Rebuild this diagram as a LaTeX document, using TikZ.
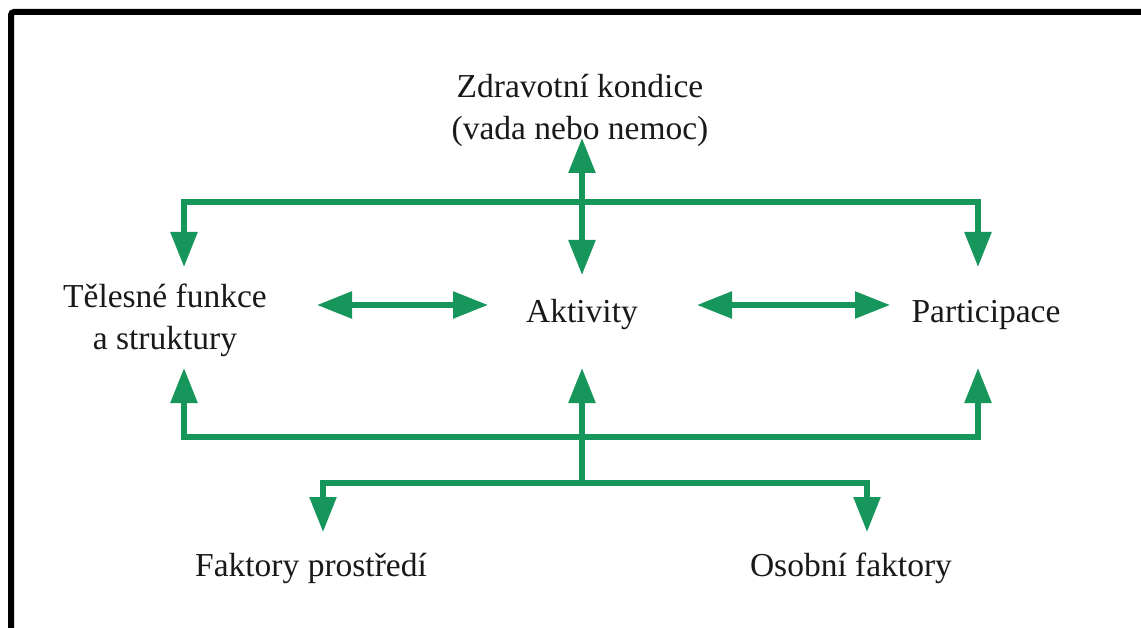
\documentclass[tikz,border=0pt]{standalone}
\usepackage{fontspec}
\setmainfont{Liberation Serif}
\usetikzlibrary{arrows.meta}
\definecolor{icfgreen}{RGB}{22,150,90}
\tikzset{
  lbl/.style={font=\fontsize{33.5}{42}\selectfont, text=black!90, inner sep=0pt, anchor=base, align=center},
  conn/.style={draw=icfgreen, line width=5.5pt},
  arr/.style={conn, -{Triangle[length=35pt,width=26pt]}},
  darr/.style={conn, {Triangle[length=35pt,width=26pt]}-{Triangle[length=35pt,width=26pt]}},
}
\begin{document}
\begin{tikzpicture}[x=1pt,y=-1pt]
\useasboundingbox (0,0) rectangle (1141,628);
\fill[white] (0,0) rectangle (1141,628);
% frame
\draw[line width=6pt, rounded corners=3pt] (11,640) -- (11,12) -- (1150,12);

% labels (base = baseline of last line)
\node[lbl] (zk) at (580,140) {Zdravotní kondice\\(vada nebo nemoc)};
\node[lbl] (tf) at (165,349) {Tělesné funkce\\a struktury};
\node[lbl] (ak) at (582,323) {Aktivity};
\node[lbl] (pa) at (986,323) {Participace};
\node[lbl] (fp) at (311,576) {Faktory prostředí};
\node[lbl] (of) at (851,576) {Osobní faktory};

% tip coordinates
\coordinate (zkT) at (582,138);
\coordinate (akT) at (582,275);
\coordinate (akB) at (582,368);
\coordinate (tfT) at (184,267);
\coordinate (tfB) at (184,368);
\coordinate (paT) at (978,267);
\coordinate (paB) at (978,368);
\coordinate (tfR) at (317,305);
\coordinate (akL) at (488,305);
\coordinate (akR) at (697,305);
\coordinate (paL) at (890,305);
\coordinate (fpT) at (323,532);
\coordinate (ofT) at (867,532);
% junctions
\coordinate (topJ) at (582,202);
\coordinate (botJ) at (582,437);
\coordinate (lowJ) at (582,483);

% top
\draw[darr] (zkT) -- (akT);
\draw[arr] (topJ) -| (tfT);
\draw[arr] (topJ) -| (paT);
% horizontal
\draw[darr] (tfR) -- (akL);
\draw[darr] (akR) -- (paL);
% bottom
\draw[arr] (lowJ) -- (akB);
\draw[arr] (botJ) -| (tfB);
\draw[arr] (botJ) -| (paB);
\draw[arr] (lowJ) -| (fpT);
\draw[arr] (lowJ) -| (ofT);
\end{tikzpicture}
\end{document}
